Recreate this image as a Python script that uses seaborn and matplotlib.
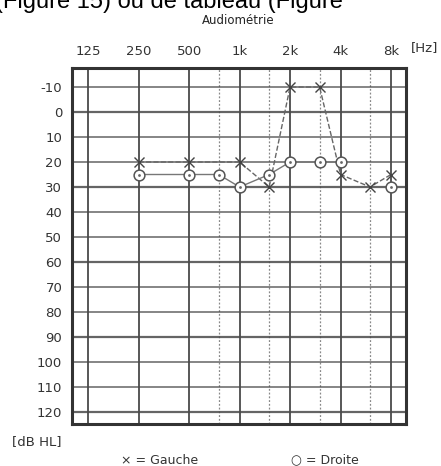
import matplotlib
matplotlib.use("Agg")
import matplotlib.pyplot as plt
import seaborn as sns

# ---- Data
#
freq_ticks = [125, 250, 500, 1000, 2000, 4000, 8000]
freq_labels = ['125', '250', '500', '1k', '2k', '4k', '8k']
half_freqs = [750, 1500, 3000, 6000]
db_ticks = [-10, 0, 10, 20, 30, 40, 50, 60, 70, 80, 90, 100, 110, 120]

gauche_freq = [250, 500, 1000, 1500, 2000, 3000, 4000, 6000, 8000]
gauche_db = [20, 20, 20, 30, -10, -10, 25, 30, 25]

droite_freq = [250, 500, 750, 1000, 1500, 2000, 3000, 4000, 8000]
droite_db = [25, 25, 25, 30, 25, 20, 20, 20, 30]
# the last point (8k) is not joined to the others
droite_joined = 8

sns.set_theme(style="white")
plt.rcParams['font.family'] = ['DejaVu Sans']

fig = plt.figure(figsize=(4.41, 4.66), dpi=100)
ax = fig.add_axes([72 / 441, 1 - 424 / 466, 334 / 441, 356 / 466])

grid_col = '#4a4a4a'
ax.set_xscale('log', base=2)
ax.set_xlim(100, 9830)
ax.set_ylim(124.8, -17.6)

# ---- Grid
#
for f in freq_ticks:
    ax.axvline(f, color=grid_col, lw=1.3, zorder=1)
for f in half_freqs:
    ax.axvline(f, color='#888888', lw=0.9, ls=(0, (1.5, 1.5)), zorder=1)
for d in db_ticks:
    lw = 1.6 if d in (0, 30, 60, 90, 120) else 1.1
    ax.axhline(d, color=grid_col, lw=lw, alpha=0.85, zorder=1)

for s in ax.spines.values():
    s.set_visible(True)
    s.set_color('#333333')
    s.set_linewidth(2.2)

# ---- Data
#
sns.lineplot(x=gauche_freq, y=gauche_db, ax=ax, color='#666666', lw=1.0,
             linestyle='--', marker='x', markersize=6.5, markeredgewidth=1.0,
             markeredgecolor='#444444', zorder=3)
sns.lineplot(x=droite_freq[:droite_joined], y=droite_db[:droite_joined], ax=ax,
             color='#777777', lw=1.0, linestyle='-', zorder=3)
sns.scatterplot(x=droite_freq, y=droite_db, ax=ax, marker='o', s=60,
                facecolor='white', edgecolor='#555555', linewidth=1.1, zorder=4)
sns.scatterplot(x=droite_freq, y=droite_db, ax=ax, color='#666666', s=4,
                linewidth=0, zorder=5)

# ---- Ticks
#
ax.xaxis.tick_top()
ax.set_xticks(freq_ticks)
ax.set_xticklabels(freq_labels)
ax.minorticks_off()
ax.set_yticks(db_ticks)
ax.set_yticklabels([str(d) for d in db_ticks])
ax.tick_params(axis='both', length=0, labelsize=9.5, colors='#333333', pad=7)
ax.set_xlabel('')
ax.set_ylabel('')

fig.text(425 / 441, 1 - 48 / 466, '[Hz]', fontsize=9.5, color='#333333',
         ha='center', va='center')
fig.text(37 / 441, 1 - 442 / 466, '[dB HL]', fontsize=9.5, color='#333333',
         ha='center', va='center')
fig.text(238 / 441, 1 - 20 / 466, 'Audiométrie', fontsize=8.5, color='#222222',
         ha='center', va='center', fontweight='medium')
fig.text(160 / 441, 1 - 460 / 466, '× = Gauche', fontsize=9, color='#333333',
         ha='center', va='center')
fig.text(325 / 441, 1 - 460 / 466, '○ = Droite', fontsize=9, color='#333333',
         ha='center', va='center')
fig.text(-0.012, 1 - 8 / 466, '(Figure 15) ou de tableau (Figure', fontsize=17,
         family=['Liberation Sans', 'DejaVu Sans'], color='black',
         ha='left', va='baseline')

fig.savefig('out.png', dpi=100)
